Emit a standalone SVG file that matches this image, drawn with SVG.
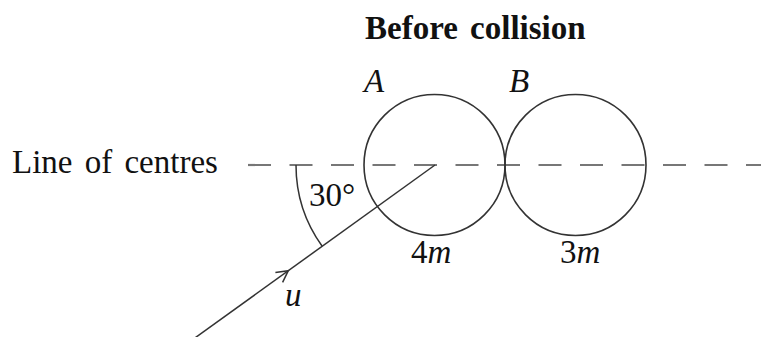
<svg xmlns="http://www.w3.org/2000/svg" width="761" height="337" viewBox="0 0 761 337">
<style>
text{font-family:"Liberation Serif","Times New Roman",serif;font-size:33px;fill:#111}
.it{font-style:italic}
.ball{fill:none;stroke:#333;stroke-width:1.6}
.ln{fill:none;stroke:#333;stroke-width:1.5}
.dash{stroke:#777;stroke-width:2.2;stroke-dasharray:23 18.5}
</style>
<rect width="761" height="337" fill="#fff"/>
<text x="365" y="39" font-weight="bold" font-size="34" word-spacing="4">Before collision</text>
<text x="12" y="173" font-size="34" word-spacing="4">Line of centres</text>
<line class="dash" x1="248" y1="165" x2="761" y2="165"/>
<g id="ballA">
<circle class="ball" cx="434.5" cy="165" r="70.5"/>
<text class="it" x="364" y="92">A</text>
<text x="411" y="263">4<tspan class="it">m</tspan></text>
</g>
<g id="ballB">
<circle class="ball" cx="575.5" cy="165" r="70.5"/>
<text class="it" x="509" y="92">B</text>
<text x="560" y="263">3<tspan class="it">m</tspan></text>
</g>
<g id="connectors">
<line class="ln" x1="435" y1="165" x2="190" y2="341.5"/>
<path class="ln" d="M275.4,272.5 L288.3,270.7 L282.6,282.4"/>
<path class="ln" d="M296,165 A139,139 0 0 0 322.2,246.3"/>
</g>
<text x="309" y="206">30°</text>
<text class="it" x="285" y="306">u</text>
</svg>
